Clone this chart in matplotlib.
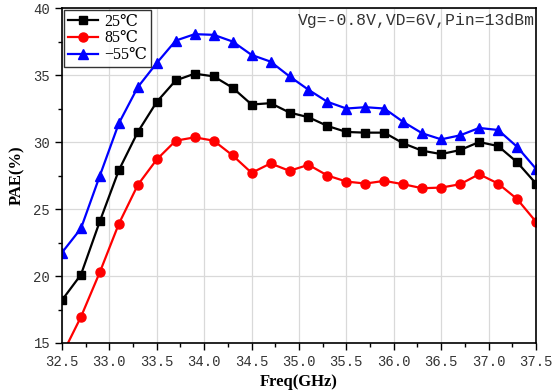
import matplotlib
matplotlib.use('Agg')
import matplotlib.pyplot as plt
import numpy as np
from matplotlib.ticker import MultipleLocator, FormatStrFormatter

# frequency points (GHz)
freq = [32.5, 32.7, 32.9, 33.1, 33.3, 33.5, 33.7, 33.9, 34.1, 34.3, 34.5, 34.7, 34.9,
        35.1, 35.3, 35.5, 35.7, 35.9, 36.1, 36.3, 36.5, 36.7, 36.9, 37.1, 37.3, 37.5]

pae_25 = [18.2, 20.1, 24.1, 27.9, 30.75, 33.0, 34.6, 35.1, 34.9, 34.05, 32.8, 32.9, 32.2,
          31.85, 31.2, 30.75, 30.7, 30.7, 29.9, 29.35, 29.1, 29.4, 30.0, 29.7, 28.5, 26.9]
pae_85 = [14.1, 16.95, 20.3, 23.9, 26.8, 28.7, 30.1, 30.35, 30.1, 29.0, 27.7, 28.4, 27.85,
          28.3, 27.5, 27.05, 26.9, 27.1, 26.85, 26.55, 26.6, 26.85, 27.6, 26.9, 25.75, 24.05]
pae_m55 = [21.75, 23.55, 27.5, 31.4, 34.1, 35.9, 37.57, 38.05, 38.0, 37.5, 36.5, 36.0, 34.9,
           33.9, 33.0, 32.5, 32.6, 32.5, 31.5, 30.65, 30.2, 30.5, 31.05, 30.9, 29.65, 28.0]

labels = ['25℃', '85℃', '−55℃']
note = 'Vg=-0.8V,VD=6V,Pin=13dBm'

serif = ['Liberation Serif', 'DejaVu Serif', 'Noto Sans CJK SC']
mono = ['Liberation Mono', 'DejaVu Sans Mono']

fig = plt.figure(figsize=(5.56, 3.92), dpi=100)
ax = fig.add_axes([0.1115, 0.125, 0.8525, 0.8545])

ax.plot(freq, pae_25, color='black', marker='s', markersize=5.5, linewidth=1.6, label=labels[0])
ax.plot(freq, pae_85, color='#ff0000', marker='o', markersize=6.5, linewidth=1.6, label=labels[1])
ax.plot(freq, pae_m55, color='#0000ff', marker='^', markersize=7, linewidth=1.6, label=labels[2])

ax.set_xlim(32.5, 37.5)
ax.set_ylim(15, 40)
ax.xaxis.set_major_locator(MultipleLocator(0.5))
ax.xaxis.set_minor_locator(MultipleLocator(0.25))
ax.yaxis.set_major_locator(MultipleLocator(5))
ax.yaxis.set_minor_locator(MultipleLocator(2.5))
ax.xaxis.set_major_formatter(FormatStrFormatter('%.1f'))
ax.yaxis.set_major_formatter(FormatStrFormatter('%d'))
ax.grid(True, which='major', color='#d9d9d9', linewidth=0.9)
ax.set_axisbelow(True)
ax.tick_params(which='major', direction='out', length=5, width=1, colors='black', labelcolor='#333333')
ax.tick_params(which='minor', direction='out', length=3, width=1)
for lab in ax.get_xticklabels() + ax.get_yticklabels():
    lab.set_family(mono)
    lab.set_fontsize(10)
for sp in ax.spines.values():
    sp.set_linewidth(1.2)

ax.set_xlabel('Freq(GHz)', fontsize=12, fontweight='bold', family=serif, labelpad=4)
ax.set_ylabel('PAE(%)', fontsize=12, fontweight='bold', family=serif, labelpad=6)

leg = ax.legend(loc='upper left', prop={'family': serif, 'size': 11.5},
                frameon=True, fancybox=False, edgecolor='black', borderaxespad=0.1,
                handlelength=1.9, borderpad=0.25, labelspacing=0.05, handletextpad=0.4)
leg.get_frame().set_linewidth(1.0)

ax.text(0.997, 0.985, note, transform=ax.transAxes, ha='right', va='top',
        fontsize=11.8, family=mono, color='#333333')

plt.savefig('out.png', dpi=100)
